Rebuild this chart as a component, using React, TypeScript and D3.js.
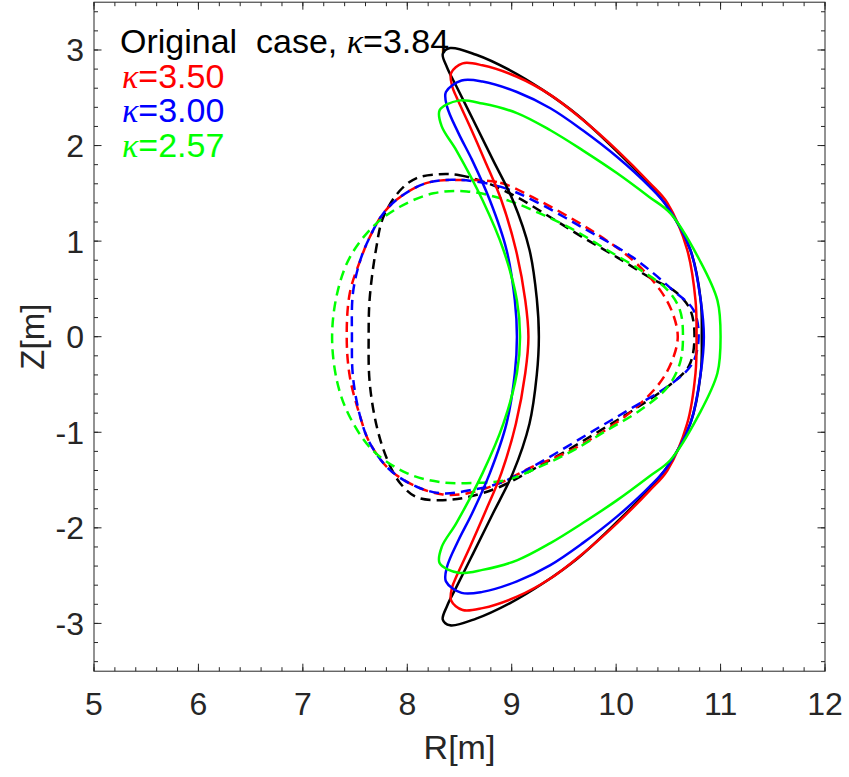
import React from "react";
import * as d3 from "d3";

type P = [number, number];

// ---- data (R [m], Z [m]) ----
const solid384: P[] = [
  [8.34, 2.96], [8.41, 3.02], [8.66, 2.95], [8.98, 2.79], [9.30, 2.58], [9.63, 2.32], [9.94, 2.01],
  [10.26, 1.66], [10.49, 1.36], [10.71, 0.91], [10.81, 0.38], [10.82, 0], [10.81, -0.38], [10.71, -0.91],
  [10.49, -1.36], [10.26, -1.66], [9.94, -2.01], [9.63, -2.32], [9.30, -2.58], [8.98, -2.79], [8.66, -2.95],
  [8.41, -3.02], [8.34, -2.96], [8.38, -2.82], [8.47, -2.62], [8.63, -2.27], [8.82, -1.85], [9.01, -1.43],
  [9.17, -0.91], [9.24, -0.40], [9.26, 0], [9.24, 0.40], [9.17, 0.91], [9.01, 1.43], [8.82, 1.85],
  [8.63, 2.27], [8.47, 2.62], [8.38, 2.82],
];
const solid350: P[] = [
  [8.42, 2.76], [8.53, 2.86], [8.72, 2.84], [9.05, 2.72], [9.37, 2.53], [9.68, 2.27], [10.01, 1.95],
  [10.32, 1.61], [10.49, 1.40], [10.68, 0.91], [10.76, 0.38], [10.77, 0], [10.76, -0.38], [10.68, -0.91],
  [10.49, -1.40], [10.32, -1.61], [10.01, -1.95], [9.68, -2.27], [9.37, -2.53], [9.05, -2.72], [8.72, -2.84],
  [8.53, -2.86], [8.42, -2.76], [8.43, -2.62], [8.47, -2.51], [8.60, -2.20], [8.74, -1.85], [8.90, -1.43],
  [9.04, -0.91], [9.13, -0.38], [9.16, 0], [9.13, 0.38], [9.04, 0.91], [8.90, 1.43], [8.74, 1.85],
  [8.60, 2.20], [8.47, 2.51], [8.43, 2.62],
];
const solid300: P[] = [
  [8.37, 2.56], [8.52, 2.68], [8.72, 2.67], [9.05, 2.56], [9.37, 2.39], [9.68, 2.16], [10.01, 1.88],
  [10.32, 1.57], [10.49, 1.36], [10.71, 0.91], [10.81, 0.38], [10.84, 0], [10.81, -0.38], [10.71, -0.91],
  [10.49, -1.36], [10.32, -1.57], [10.01, -1.88], [9.68, -2.16], [9.37, -2.39], [9.05, -2.56], [8.72, -2.67],
  [8.52, -2.68], [8.37, -2.56], [8.38, -2.41], [8.49, -2.13], [8.62, -1.85], [8.79, -1.43], [8.95, -0.91],
  [9.03, -0.38], [9.05, 0], [9.03, 0.38], [8.95, 0.91], [8.79, 1.43], [8.62, 1.85], [8.49, 2.13], [8.38, 2.41],
];
const solid257: P[] = [
  [8.31, 2.37], [8.49, 2.47], [8.72, 2.44], [9.05, 2.34], [9.37, 2.16], [9.68, 1.95], [10.01, 1.71],
  [10.32, 1.46], [10.52, 1.29], [10.80, 0.80], [10.97, 0.38], [11.00, 0], [10.97, -0.38], [10.80, -0.80],
  [10.52, -1.29], [10.32, -1.46], [10.01, -1.71], [9.68, -1.95], [9.37, -2.16], [9.05, -2.34], [8.72, -2.44],
  [8.49, -2.47], [8.31, -2.37], [8.33, -2.20], [8.47, -1.95], [8.72, -1.43], [8.92, -0.91], [9.05, -0.38],
  [9.08, 0], [9.05, 0.38], [8.92, 0.91], [8.72, 1.43], [8.47, 1.95], [8.33, 2.20],
];
const dashed384: P[] = [
  [8.31, 1.70], [8.50, 1.69], [8.76, 1.61], [9.05, 1.46], [9.37, 1.25], [9.68, 1.04], [10.01, 0.83],
  [10.32, 0.62], [10.58, 0.46], [10.71, 0.28], [10.75, 0], [10.70, -0.30], [10.52, -0.50], [10.16, -0.77],
  [9.85, -0.98], [9.53, -1.19], [9.20, -1.39], [8.89, -1.57], [8.57, -1.68], [8.34, -1.71], [8.09, -1.68],
  [7.93, -1.53], [7.81, -1.29], [7.71, -0.95], [7.64, -0.48], [7.63, 0], [7.64, 0.40], [7.70, 0.91],
  [7.77, 1.25], [7.93, 1.53], [8.09, 1.66],
];
const dashed350: P[] = [
  [8.50, 1.64], [8.89, 1.61], [9.20, 1.46], [9.75, 1.12], [10.16, 0.80], [10.42, 0.49], [10.54, 0.25],
  [10.59, 0], [10.54, -0.24], [10.42, -0.48], [10.16, -0.77], [9.85, -1.01], [9.53, -1.21], [9.20, -1.36],
  [8.89, -1.53], [8.57, -1.64], [8.34, -1.65], [8.09, -1.57], [7.83, -1.39], [7.64, -1.11], [7.55, -0.84],
  [7.45, -0.42], [7.42, 0], [7.45, 0.46], [7.55, 0.80], [7.64, 1.04], [7.77, 1.29], [7.93, 1.46], [8.19, 1.61],
];
const dashed300: P[] = [
  [8.50, 1.64], [8.89, 1.57], [9.20, 1.43], [9.68, 1.14], [10.16, 0.83], [10.54, 0.49], [10.74, 0.28],
  [10.79, 0], [10.73, -0.28], [10.52, -0.50], [10.16, -0.74], [9.85, -0.94], [9.53, -1.15], [9.20, -1.36],
  [8.89, -1.53], [8.63, -1.60], [8.34, -1.64], [8.09, -1.57], [7.83, -1.39], [7.64, -1.11], [7.55, -0.84],
  [7.48, -0.42], [7.47, 0], [7.48, 0.46], [7.55, 0.80], [7.64, 1.04], [7.77, 1.29], [7.93, 1.46], [8.19, 1.61],
];
const dashed257: P[] = [
  [8.57, 1.52], [8.95, 1.43], [9.27, 1.29], [9.59, 1.12], [9.91, 0.91], [10.23, 0.70], [10.49, 0.49],
  [10.61, 0.28], [10.64, 0], [10.61, -0.28], [10.49, -0.53], [10.23, -0.77], [9.91, -0.98], [9.59, -1.19],
  [9.27, -1.36], [8.95, -1.50], [8.63, -1.53], [8.31, -1.52], [8.00, -1.43], [7.67, -1.19], [7.45, -0.84],
  [7.33, -0.48], [7.28, 0], [7.33, 0.46], [7.45, 0.83], [7.67, 1.15], [7.93, 1.36], [8.25, 1.50],
];

const xTicks = [5, 6, 7, 8, 9, 10, 11, 12];
const yTicks = [-3, -2, -1, 0, 1, 2, 3];
const legendLabels = ["Original  case, ", "", "", ""];
const legendKappas = ["3.84", "3.50", "3.00", "2.57"];
const colors = ["#000000", "#ff0000", "#0000ff", "#00ff00"];
const solids = [solid384, solid350, solid300, solid257];
const dashes = [dashed384, dashed350, dashed300, dashed257];

export default function App() {
  const W = 849, H = 777;
  const left = 94, right = 825, top = 2.2, bottom = 671.2;
  const x = d3.scaleLinear().domain([5, 12]).range([left, right]);
  const y = d3.scaleLinear().domain([-3.5, 3.5]).range([bottom, top]);
  const line = d3
    .line<P>()
    .x((d) => x(d[0]))
    .y((d) => y(d[1]))
    .curve(d3.curveCatmullRomClosed.alpha(0.5));

  const xMinor = d3.range(50, 121, 2).map((v) => v / 10);
  const yMinor = d3.range(-34, 35, 2).map((v) => v / 10);
  const axisColor = "#262626";
  const font = "'Liberation Sans', Arial, Helvetica, sans-serif";

  return (
    <svg width={W} height={H} style={{ position: "absolute", left: 0, top: 0, background: "#fff" }}>
      <rect x={0} y={0} width={W} height={H} fill="#fff" />
      {dashes.map((d, i) => (
        <path key={"d" + i} d={line(d) || ""} fill="none" stroke={colors[i]} strokeWidth={2.5} strokeDasharray="10,6" />
      ))}
      {solids.map((d, i) => (
        <path key={"s" + i} d={line(d) || ""} fill="none" stroke={colors[i]} strokeWidth={2.5} />
      ))}
      {xMinor.map((v) => (
        <g key={"xm" + v} stroke={axisColor} strokeWidth={1}>
          <line x1={x(v)} x2={x(v)} y1={bottom} y2={bottom - 4} />
          <line x1={x(v)} x2={x(v)} y1={top} y2={top + 4} />
        </g>
      ))}
      {yMinor.map((v) => (
        <g key={"ym" + v} stroke={axisColor} strokeWidth={1}>
          <line x1={left} x2={left + 4} y1={y(v)} y2={y(v)} />
          <line x1={right} x2={right - 4} y1={y(v)} y2={y(v)} />
        </g>
      ))}
      {xTicks.map((v) => (
        <g key={"xt" + v}>
          <line x1={x(v)} x2={x(v)} y1={bottom} y2={bottom - 7.5} stroke={axisColor} />
          <line x1={x(v)} x2={x(v)} y1={top} y2={top + 7.5} stroke={axisColor} />
          <text x={x(v)} y={715} textAnchor="middle" fontFamily={font} fontSize={32} fill={axisColor}>
            {v}
          </text>
        </g>
      ))}
      {yTicks.map((v) => (
        <g key={"yt" + v}>
          <line x1={left} x2={left + 7.5} y1={y(v)} y2={y(v)} stroke={axisColor} />
          <line x1={right} x2={right - 7.5} y1={y(v)} y2={y(v)} stroke={axisColor} />
          <text x={84} y={y(v) + 11.5} textAnchor="end" fontFamily={font} fontSize={32} fill={axisColor}>
            {v}
          </text>
        </g>
      ))}
      <rect x={left} y={top} width={right - left} height={bottom - top} fill="none" stroke={axisColor} strokeWidth={1} />
      <text x={(left + right) / 2} y={759} textAnchor="middle" fontFamily={font} fontSize={34} fill={axisColor}>
        R[m]
      </text>
      <text
        transform={`translate(44,${(top + bottom) / 2}) rotate(-90)`}
        textAnchor="middle"
        fontFamily={font}
        fontSize={33}
        fill={axisColor}
      >
        Z[m]
      </text>
      {legendKappas.map((k, i) => (
        <text
          key={"lg" + i}
          x={i === 0 ? 120 : 122}
          y={53 + i * 34.7}
          fontFamily={font}
          fontSize={34}
          fill={colors[i]}
          style={{ whiteSpace: "pre" }}
        >
          {legendLabels[i]}
          <tspan fontStyle="italic" fontFamily="'Liberation Serif', 'DejaVu Serif', serif">κ</tspan>
          {"=" + k}
        </text>
      ))}
    </svg>
  );
}
